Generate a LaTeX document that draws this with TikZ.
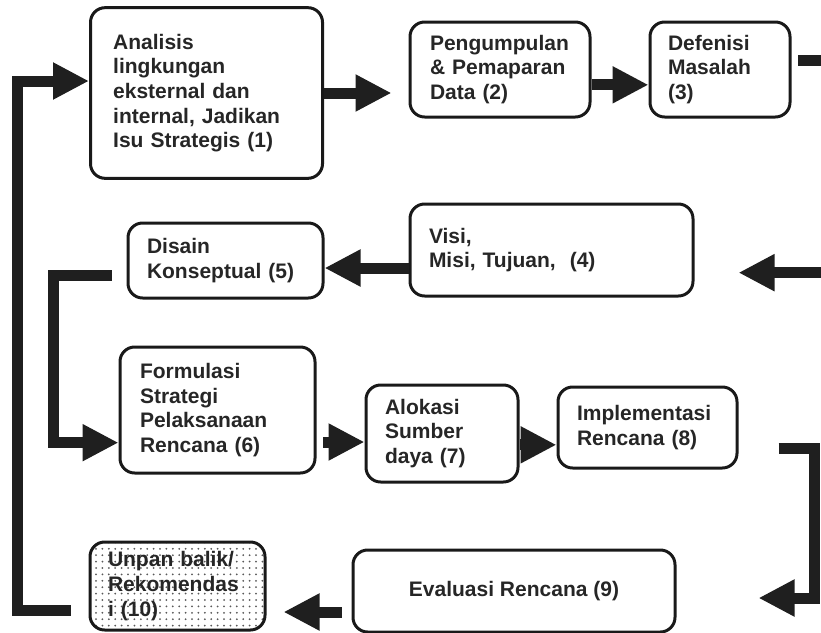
\documentclass[tikz,border=0pt]{standalone}
\usepackage{fontspec}
\setmainfont{Liberation Sans}
\usepackage{tikz}
\usetikzlibrary{arrows.meta, patterns.meta}
\tikzset{box/.style={draw=black!90, line width=2.25pt, rounded corners=11pt, align=left, inner ysep=0pt, text=black!85, font=\fontsize{15.75}{18.5}\selectfont\bfseries}}
\tikzset{flow/.style={line width=8.25pt, black!88, -{Triangle[length=27pt, width=26pt]}}}
\tikzset{dotted box/.style={box, preaction={fill=white}, pattern={Dots[distance=4.8pt, radius=0.75pt]}, pattern color=black!65}}

\begin{document}
\begin{tikzpicture}[x=0.75pt, y=-0.75pt]
  \useasboundingbox (0,0) rectangle (821,632);
  % Boxes
  \node[box, minimum width=174pt, minimum height=128pt, inner xsep=17pt, text width=140pt] (b1) at (206.5,93)
    {Analisis\\lingkungan\\eksternal dan\\internal, Jadikan\\Isu Strategis (1)};
  \node[box, minimum width=135pt, minimum height=71.25pt, inner xsep=15pt, text width=105pt] (b2) at (500,69.5)
    {Pengumpulan\\\& Pemaparan\\Data (2)};
  \node[box, minimum width=105pt, minimum height=71.25pt, inner xsep=13.5pt, text width=78pt] (b3) at (720,69.5)
    {Defenisi\\Masalah\\(3)};
  \node[box, minimum width=212.25pt, minimum height=69pt, inner xsep=14.25pt, text width=183.75pt] (b4) at (551.5,250)
    {Visi,\\Misi, Tujuan,\ \ (4)};
  \node[box, minimum width=146.25pt, minimum height=56.25pt, inner xsep=14.25pt, text width=117.75pt] (b5) at (225.5,260.5)
    {Disain\\Konseptual (5)};
  \node[box, minimum width=146.25pt, minimum height=94.5pt, inner xsep=15pt, text width=116.25pt] (b6) at (217.5,410)
    {Formulasi\\Strategi\\Pelaksanaan\\Rencana (6)};
  \node[box, minimum width=114pt, minimum height=72.75pt, inner xsep=14.25pt, text width=85.5pt] (b7) at (442,433.5)
    {Alokasi\\Sumber\\daya (7)};
  \node[box, minimum width=134.25pt, minimum height=60.75pt, inner xsep=14.25pt, text width=105.75pt] (b8) at (647.5,427.5)
    {Implementasi\\Rencana (8)};
  \node[box, align=center, minimum width=241.5pt, minimum height=61.5pt] (b9) at (514,591)
    {Evaluasi Rencana (9)};
  \node[dotted box, minimum width=131.25pt, minimum height=66pt, inner xsep=13.5pt, text width=104.25pt] (b10) at (177.5,586)
    {Unpan balik/\\Rekomendas\\i (10)};

  % Arrows
  \coordinate (edge) at (834,0);
  \draw[flow, shorten >=12.75pt] (b1.east) -- (b1.east -| b2.west);
  \draw[flow] ([yshift=-11.5pt]b2.east) -- ([yshift=-11.5pt]b3.west);
  \draw[flow, shorten >=33pt] ([xshift=5pt,yshift=7pt]b3.east) -| ([yshift=-17pt]edge |- b4.east) -- ([yshift=-17pt]b4.east);
  \draw[flow] ([yshift=-13.5pt]b4.west) -- ([yshift=-13.5pt]b4.west -| b5.east);
  \draw[flow] ([xshift=-11pt,yshift=-11pt]b5.west) -- ++(-44pt,0) |- ([yshift=-24.5pt]b6.west);
  \draw[flow] ([xshift=5pt,yshift=-24pt]b6.east) -- ([yshift=-24pt]b6.east -| b7.west);
  \draw[flow] ([yshift=-8.5pt]b7.east) -- ([yshift=-8.5pt]b7.east -| b8.west);
  \draw[flow, shorten >=61.5pt] ([xshift=30pt,yshift=-15.5pt]b8.east) -- ++(27pt,0) |- ([yshift=-5.25pt]b9.east);
  \draw[flow, shorten >=12.75pt] ([xshift=-7.5pt,yshift=-15.75pt]b9.west) -- ([yshift=-15.75pt]b9.west -| b10.east);
  \draw[flow] ([xshift=-13.5pt,yshift=-18pt]b10.west) -- ++(-39.75pt,0) |- ([yshift=9pt]b1.west);
\end{tikzpicture}
\end{document}
